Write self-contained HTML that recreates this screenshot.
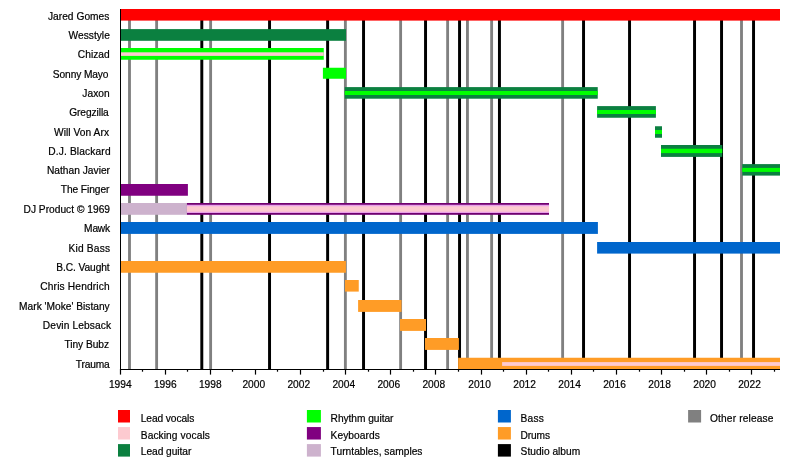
<!DOCTYPE html>
<html><head><meta charset="utf-8"><title>Timeline</title>
<style>html,body{margin:0;padding:0;background:#fff}svg{display:block}text{font-family:"Liberation Sans",Arial,Helvetica,sans-serif;font-size:10.2px;fill:#000;stroke:#000;stroke-width:0.2px}</style></head><body>
<svg width="800" height="458" viewBox="0 0 800 458">
<rect width="800" height="458" fill="#fff"/>
<rect x="128.07" y="9" width="2.85" height="360.5" fill="#808080"/>
<rect x="155.20" y="9" width="2.85" height="360.5" fill="#808080"/>
<rect x="209.20" y="9" width="2.85" height="360.5" fill="#808080"/>
<rect x="343.95" y="9" width="2.85" height="360.5" fill="#808080"/>
<rect x="399.20" y="9" width="2.85" height="360.5" fill="#808080"/>
<rect x="446.20" y="9" width="2.85" height="360.5" fill="#808080"/>
<rect x="466.02" y="9" width="2.85" height="360.5" fill="#808080"/>
<rect x="490.20" y="9" width="2.85" height="360.5" fill="#808080"/>
<rect x="561.20" y="9" width="2.85" height="360.5" fill="#808080"/>
<rect x="740.08" y="9" width="2.85" height="360.5" fill="#808080"/>
<rect x="200.33" y="9" width="2.95" height="360.5" fill="#000"/>
<rect x="268.07" y="9" width="2.95" height="360.5" fill="#000"/>
<rect x="326.15" y="9" width="2.95" height="360.5" fill="#000"/>
<rect x="362.07" y="9" width="2.95" height="360.5" fill="#000"/>
<rect x="424.07" y="9" width="2.95" height="360.5" fill="#000"/>
<rect x="458.07" y="9" width="2.95" height="360.5" fill="#000"/>
<rect x="497.97" y="9" width="2.95" height="360.5" fill="#000"/>
<rect x="582.07" y="9" width="2.95" height="360.5" fill="#000"/>
<rect x="628.07" y="9" width="2.95" height="360.5" fill="#000"/>
<rect x="693.07" y="9" width="2.95" height="360.5" fill="#000"/>
<rect x="720.07" y="9" width="2.95" height="360.5" fill="#000"/>
<rect x="752.07" y="9" width="2.95" height="360.5" fill="#000"/>
<rect x="120.50" y="9.00" width="659.50" height="11.60" fill="#ff0000"/>
<rect x="120.50" y="29.10" width="225.50" height="11.70" fill="#0b8040"/>
<rect x="120.50" y="48.00" width="203.25" height="11.75" fill="#00ff00"/>
<rect x="120.50" y="52.30" width="203.25" height="3.60" fill="#fdcad0"/>
<rect x="322.90" y="67.75" width="23.10" height="11.00" fill="#00ff00"/>
<rect x="344.75" y="87.10" width="253.00" height="11.60" fill="#0b8040"/>
<rect x="344.75" y="91.00" width="253.00" height="4.00" fill="#00ff00"/>
<rect x="597.10" y="106.10" width="58.80" height="11.65" fill="#0b8040"/>
<rect x="597.10" y="110.00" width="58.80" height="4.00" fill="#00ff00"/>
<rect x="655.00" y="126.25" width="7.00" height="11.50" fill="#0b8040"/>
<rect x="655.00" y="130.00" width="7.00" height="4.00" fill="#00ff00"/>
<rect x="661.00" y="145.00" width="61.25" height="11.90" fill="#0b8040"/>
<rect x="661.00" y="148.75" width="61.25" height="4.35" fill="#00ff00"/>
<rect x="742.25" y="164.10" width="37.75" height="11.50" fill="#0b8040"/>
<rect x="742.25" y="167.90" width="37.75" height="4.00" fill="#00ff00"/>
<rect x="120.50" y="184.00" width="67.40" height="11.75" fill="#800080"/>
<rect x="120.50" y="203.00" width="66.40" height="11.80" fill="#cdb2cd"/>
<rect x="186.90" y="203.00" width="362.10" height="11.80" fill="#700070"/>
<rect x="186.90" y="204.75" width="362.10" height="8.25" fill="#e8a0e8"/>
<rect x="186.90" y="206.25" width="362.10" height="5.50" fill="#fdcad0"/>
<rect x="120.50" y="222.00" width="477.40" height="11.90" fill="#0066cc"/>
<rect x="597.10" y="242.00" width="182.90" height="11.60" fill="#0066cc"/>
<rect x="120.50" y="261.00" width="225.40" height="11.75" fill="#ff9c26"/>
<rect x="345.00" y="280.00" width="13.75" height="11.60" fill="#ff9c26"/>
<rect x="358.10" y="300.00" width="43.40" height="11.90" fill="#ff9c26"/>
<rect x="400.00" y="319.00" width="26.00" height="11.90" fill="#ff9c26"/>
<rect x="425.00" y="338.00" width="33.90" height="11.90" fill="#ff9c26"/>
<rect x="458.10" y="357.75" width="321.90" height="11.25" fill="#ff9c26"/>
<rect x="502.10" y="362.10" width="277.90" height="3.80" fill="#fdcad0"/>
<rect x="120" y="9" width="1" height="361" fill="#000"/>
<rect x="120" y="369" width="660" height="1" fill="#000"/>
<rect x="119.90" y="369" width="1.2" height="5.6" fill="#000"/>
<text x="120.25" y="387.9" text-anchor="middle">1994</text>
<rect x="141.90" y="369" width="1.2" height="2.7" fill="#000"/>
<rect x="164.90" y="369" width="1.2" height="5.6" fill="#000"/>
<text x="165.25" y="387.9" text-anchor="middle">1996</text>
<rect x="186.90" y="369" width="1.2" height="2.7" fill="#000"/>
<rect x="209.90" y="369" width="1.2" height="5.6" fill="#000"/>
<text x="210.25" y="387.9" text-anchor="middle">1998</text>
<rect x="231.90" y="369" width="1.2" height="2.7" fill="#000"/>
<rect x="254.90" y="369" width="1.2" height="5.6" fill="#000"/>
<text x="253.75" y="387.9" text-anchor="middle">2000</text>
<rect x="276.90" y="369" width="1.2" height="2.7" fill="#000"/>
<rect x="299.90" y="369" width="1.2" height="5.6" fill="#000"/>
<text x="298.75" y="387.9" text-anchor="middle">2002</text>
<rect x="322.90" y="369" width="1.2" height="2.7" fill="#000"/>
<rect x="344.90" y="369" width="1.2" height="5.6" fill="#000"/>
<text x="343.75" y="387.9" text-anchor="middle">2004</text>
<rect x="367.90" y="369" width="1.2" height="2.7" fill="#000"/>
<rect x="389.90" y="369" width="1.2" height="5.6" fill="#000"/>
<text x="388.75" y="387.9" text-anchor="middle">2006</text>
<rect x="412.90" y="369" width="1.2" height="2.7" fill="#000"/>
<rect x="434.90" y="369" width="1.2" height="5.6" fill="#000"/>
<text x="433.75" y="387.9" text-anchor="middle">2008</text>
<rect x="457.90" y="369" width="1.2" height="2.7" fill="#000"/>
<rect x="480.90" y="369" width="1.2" height="5.6" fill="#000"/>
<text x="479.60" y="387.9" text-anchor="middle">2010</text>
<rect x="502.90" y="369" width="1.2" height="2.7" fill="#000"/>
<rect x="525.90" y="369" width="1.2" height="5.6" fill="#000"/>
<text x="524.60" y="387.9" text-anchor="middle">2012</text>
<rect x="547.90" y="369" width="1.2" height="2.7" fill="#000"/>
<rect x="570.90" y="369" width="1.2" height="5.6" fill="#000"/>
<text x="569.60" y="387.9" text-anchor="middle">2014</text>
<rect x="592.90" y="369" width="1.2" height="2.7" fill="#000"/>
<rect x="615.90" y="369" width="1.2" height="5.6" fill="#000"/>
<text x="614.50" y="387.9" text-anchor="middle">2016</text>
<rect x="638.90" y="369" width="1.2" height="2.7" fill="#000"/>
<rect x="660.90" y="369" width="1.2" height="5.6" fill="#000"/>
<text x="659.60" y="387.9" text-anchor="middle">2018</text>
<rect x="683.90" y="369" width="1.2" height="2.7" fill="#000"/>
<rect x="705.90" y="369" width="1.2" height="5.6" fill="#000"/>
<text x="704.60" y="387.9" text-anchor="middle">2020</text>
<rect x="728.90" y="369" width="1.2" height="2.7" fill="#000"/>
<rect x="750.90" y="369" width="1.2" height="5.6" fill="#000"/>
<text x="749.50" y="387.9" text-anchor="middle">2022</text>
<rect x="773.90" y="369" width="1.2" height="2.7" fill="#000"/>
<text x="109.40" y="20.00" text-anchor="end" textLength="61.46">Jared Gomes</text>
<text x="109.80" y="38.75" text-anchor="end" textLength="41.19">Wesstyle</text>
<text x="109.75" y="57.90" text-anchor="end" textLength="31.97">Chizad</text>
<text x="108.50" y="77.75" text-anchor="end" textLength="55.64">Sonny Mayo</text>
<text x="109.75" y="96.90" text-anchor="end" textLength="27.54">Jaxon</text>
<text x="108.75" y="116.00" text-anchor="end" textLength="39.55">Gregzilla</text>
<text x="109.00" y="135.60" text-anchor="end" textLength="54.96">Will Von Arx</text>
<text x="110.60" y="154.75" text-anchor="end" textLength="62.43">D.J. Blackard</text>
<text x="110.00" y="173.50" text-anchor="end" textLength="63.11">Nathan Javier</text>
<text x="109.40" y="193.25" text-anchor="end" textLength="48.67">The Finger</text>
<text x="110.00" y="212.60" text-anchor="end" textLength="86.48">DJ Product © 1969</text>
<text x="110.10" y="231.90" text-anchor="end" textLength="26.01">Mawk</text>
<text x="110.10" y="251.80" text-anchor="end" textLength="41.70">Kid Bass</text>
<text x="109.70" y="271.10" text-anchor="end" textLength="53.39">B.C. Vaught</text>
<text x="109.70" y="289.90" text-anchor="end" textLength="69.47">Chris Hendrich</text>
<text x="109.70" y="309.80" text-anchor="end" textLength="90.62">Mark 'Moke' Bistany</text>
<text x="111.10" y="328.80" text-anchor="end" textLength="68.23">Devin Lebsack</text>
<text x="109.00" y="347.75" text-anchor="end" textLength="44.52">Tiny Bubz</text>
<text x="109.75" y="367.75" text-anchor="end" textLength="33.88">Trauma</text>
<rect x="118.00" y="410.00" width="12.00" height="12.5" fill="#ff0000"/>
<text x="140.75" y="421.60" textLength="53.53">Lead vocals</text>
<rect x="118.00" y="427.05" width="12.00" height="12.5" fill="#fdcad0"/>
<text x="140.75" y="438.50" textLength="69.10">Backing vocals</text>
<rect x="118.00" y="444.10" width="12.00" height="12.5" fill="#0b8040"/>
<text x="140.75" y="455.40" textLength="50.63">Lead guitar</text>
<rect x="306.90" y="410.00" width="14.00" height="12.5" fill="#00ff00"/>
<text x="330.60" y="421.60" textLength="62.92">Rhythm guitar</text>
<rect x="306.90" y="427.05" width="14.00" height="12.5" fill="#800080"/>
<text x="330.60" y="438.50" textLength="49.12">Keyboards</text>
<rect x="306.90" y="444.10" width="14.00" height="12.5" fill="#cdb2cd"/>
<text x="330.60" y="455.40" textLength="91.86">Turntables, samples</text>
<rect x="497.90" y="410.00" width="13.00" height="12.5" fill="#0066cc"/>
<text x="520.60" y="421.60" textLength="23.16">Bass</text>
<rect x="497.90" y="427.05" width="13.00" height="12.5" fill="#ff9c26"/>
<text x="520.60" y="438.50" textLength="29.40">Drums</text>
<rect x="497.90" y="444.10" width="13.00" height="12.5" fill="#000"/>
<text x="520.60" y="455.40" textLength="59.62">Studio album</text>
<rect x="688.10" y="410.00" width="13.00" height="12.5" fill="#808080"/>
<text x="710.00" y="421.60" textLength="63.48">Other release</text>
</svg>
</body></html>
